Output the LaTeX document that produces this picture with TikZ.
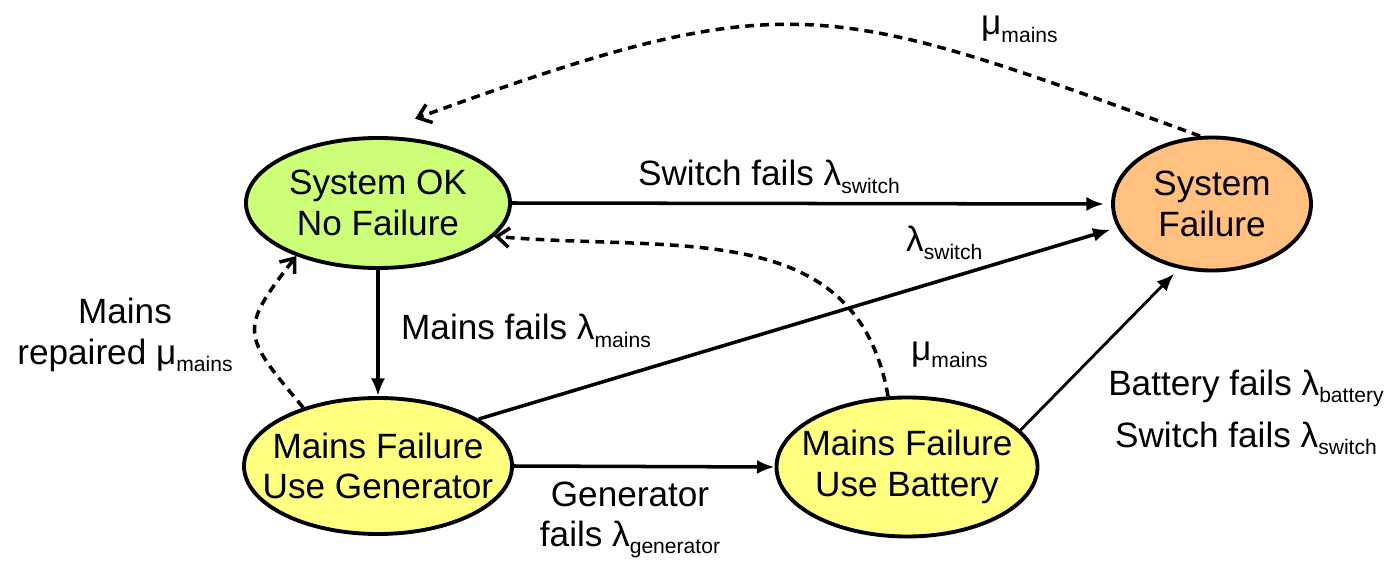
\documentclass[tikz,border=0pt]{standalone}
\usepackage{fontspec}
\setmainfont{Liberation Sans}
\usetikzlibrary{shapes.geometric, arrows.meta}
\definecolor{okgreen}{HTML}{CCFF77}
\definecolor{failorange}{HTML}{FFC080}
\definecolor{backupyellow}{HTML}{FFFF80}
\newcommand{\rateidx}[1]{\raisebox{-4pt}{\fontsize{12}{12}\selectfont #1}}

\begin{document}
\begin{tikzpicture}[
  state/.style={ellipse, draw=black, line width=2.2pt, inner sep=0pt},
  txt/.style={font=\fontsize{20}{23}\selectfont, align=center},
  trans/.style={line width=2pt, -{Latex[length=10pt,width=8pt]}},
  repair/.style={line width=2pt, dash pattern=on 5pt off 3.5pt, -{Straight Barb[length=7pt,width=11pt]}}
]
\useasboundingbox (0,0) rectangle (27.82,11.28);

% States
\node[state, fill=okgreen, minimum width=5.28cm, minimum height=2.6cm] (ok) at (7.56,7.22) {};
\node[state, fill=failorange, minimum width=3.96cm, minimum height=2.66cm] (fail) at (24.24,7.2) {};
\node[state, fill=backupyellow, minimum width=5.36cm, minimum height=2.72cm] (gen) at (7.56,1.96) {};
\node[state, fill=backupyellow, minimum width=5.22cm, minimum height=2.78cm] (bat) at (18.14,1.94) {};

% Text
\node[txt] (okText) at (ok) {System OK\\No Failure};
\node[txt] (failText) at (fail) {System\\Failure};
\node[txt] (genText) at (gen) {Mains Failure\\Use Generator};
\node[txt] (batText) at (bat) {Mains Failure\\Use Battery};

% Failures
\draw[trans, shorten >=4pt] (ok.east) -- (fail.west);
\draw[trans] (ok.south) -- (gen.north);
\draw[trans] (gen.east) -- (bat.west);
\draw[trans, shorten >=4pt] (gen.25) -- (fail.194);
\draw[trans, line width=1.6pt, shorten >=4pt] (bat.18) -- (fail.243);

% Repairs
\draw[repair] (gen.142) to[out=130, in=232, looseness=1.6] (ok.213);
\draw[repair] (bat.105) to[out=100, in=-5, looseness=1.1] (ok.-16);
\draw[repair] (fail.100) to[out=160, in=20, looseness=1.3] ([yshift=4mm]ok.60);

% Rates
\node[txt, anchor=base] (swLbl) at (15.38,7.56) {Switch fails λ\rateidx{switch}};
\node[txt, anchor=base west] (swGenLbl) at (18.0,6.24) {λ\rateidx{switch}};
\node[txt, anchor=base west] (mainsLbl) at (7.9,4.48) {Mains fails λ\rateidx{mains}};
\node[txt, anchor=base west] (muBatLbl) at (18.1,4.08) {μ\rateidx{mains}};
\node[txt, anchor=base west] (muFailLbl) at (19.5,10.58) {μ\rateidx{mains}};
\node[txt] (repLbl) at (2.5,4.58) {Mains\\repaired μ\rateidx{mains}};
\node[txt] (genLbl) at (12.6,0.88) {Generator\\fails λ\rateidx{generator}};
\node[txt] (batLbl) at (24.92,3.04) {Battery fails λ\rateidx{battery}\\[6.6pt]Switch fails λ\rateidx{switch}};
\end{tikzpicture}
\end{document}
